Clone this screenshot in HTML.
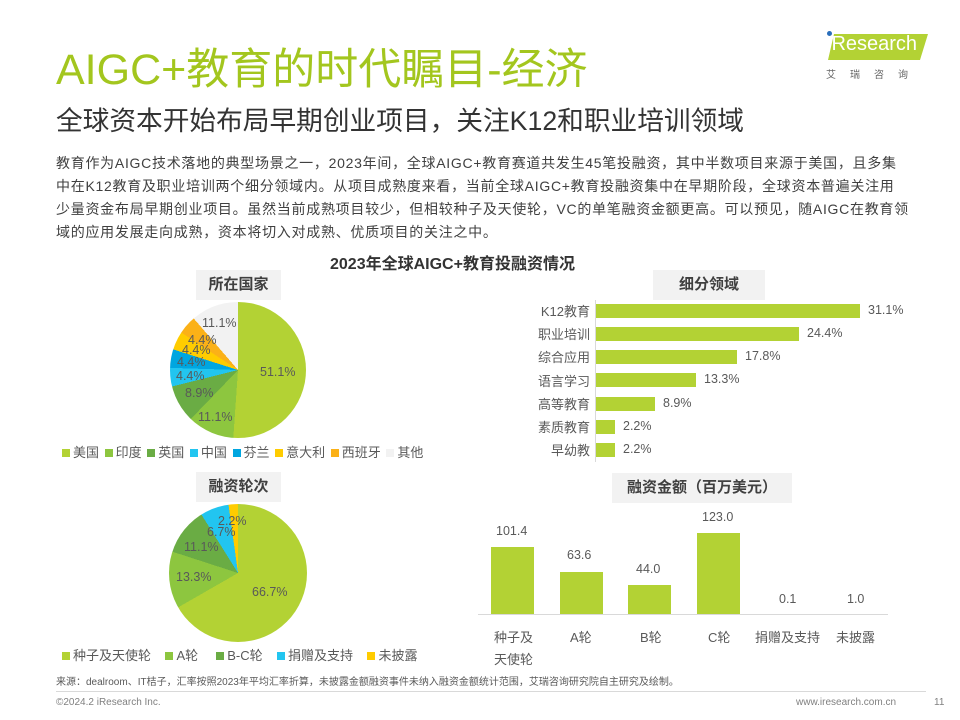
<!DOCTYPE html><html><head><meta charset="utf-8"><style>
body{margin:0;width:960px;height:720px;background:#fff;position:relative;overflow:hidden;font-family:"Liberation Sans","Noto Sans CJK SC",sans-serif;color:#404040}
.a{position:absolute;white-space:nowrap}
.pie{position:absolute;border-radius:50%}
.lb{position:absolute;font-size:12.5px;color:#595959;white-space:nowrap}
.hd{position:absolute;background:#f2f2f2;font-weight:bold;font-size:15px;color:#404040;text-align:center}
.sq{display:inline-block;width:8px;height:8px;margin-right:3px;vertical-align:0}
.lg{font-size:13px;color:#595959}
.hb{position:absolute;left:596px;height:14px;background:#b3d234}
.cb{position:absolute;width:43px;background:#b3d234;bottom:106px}
.p{position:absolute;left:56px;font-size:14px;color:#404040;white-space:nowrap;letter-spacing:0.72px}
</style></head><body>
<div class="a" style="left:56px;top:35px;font-size:43px;color:#a3c61e">AIGC+教育的时代瞩目-经济</div>
<div class="a" style="left:56px;top:99px;font-size:26.7px;color:#333">全球资本开始布局早期创业项目，关注K12和职业培训领域</div>
<div class="a" style="left:828px;top:34px;width:100px;height:26px;background:#b3d234;clip-path:polygon(6% 0,100% 0,92% 100%,0 100%)"></div>
<div class="a" style="left:827px;top:33px;font-size:20px;color:#fff">iResearch</div>
<div class="a" style="left:827px;top:31px;width:5px;height:5px;border-radius:50%;background:#2a6ebb"></div>
<div class="a" style="left:826px;top:66px;font-size:10px;color:#666;letter-spacing:14px">艾瑞咨询</div>
<div class="p" style="top:153px">教育作为AIGC技术落地的典型场景之一，2023年间，全球AIGC+教育赛道共发生45笔投融资，其中半数项目来源于美国，且多集</div>
<div class="p" style="top:176px">中在K12教育及职业培训两个细分领域内。从项目成熟度来看，当前全球AIGC+教育投融资集中在早期阶段，全球资本普遍关注用</div>
<div class="p" style="top:199px">少量资金布局早期创业项目。虽然当前成熟项目较少，但相较种子及天使轮，VC的单笔融资金额更高。可以预见，随AIGC在教育领</div>
<div class="p" style="top:222px">域的应用发展走向成熟，资本将切入对成熟、优质项目的关注之中。</div>
<div class="a" style="left:330px;top:250px;font-size:16px;font-weight:bold;color:#333">2023年全球AIGC+教育投融资情况</div>

<div class="hd" style="left:196px;top:270px;width:85px;height:30px;line-height:30px">所在国家</div>
<div class="pie" style="left:170px;top:302px;width:136px;height:136px;background:conic-gradient(#b3d234 0 51.1%,#8dc63f 0 62.2%,#6aac44 0 71.1%,#22c5f0 0 75.5%,#00a6e0 0 79.9%,#ffcc00 0 84.3%,#fbb117 0 88.7%,#f2f2f2 0 100%)"></div>
<div class="lb" style="left:260px;top:365px">51.1%</div>
<div class="lb" style="left:198px;top:410px">11.1%</div>
<div class="lb" style="left:185px;top:386px">8.9%</div>
<div class="lb" style="left:176px;top:369px">4.4%</div>
<div class="lb" style="left:177px;top:355px">4.4%</div>
<div class="lb" style="left:182px;top:343px">4.4%</div>
<div class="lb" style="left:188px;top:333px">4.4%</div>
<div class="lb" style="left:202px;top:316px">11.1%</div>
<div class="a lg" style="left:62px;top:442px;word-spacing:2px"><span class="sq" style="background:#b3d234"></span>美国 <span class="sq" style="background:#8dc63f"></span>印度 <span class="sq" style="background:#6aac44"></span>英国 <span class="sq" style="background:#22c5f0"></span>中国 <span class="sq" style="background:#00a6e0"></span>芬兰 <span class="sq" style="background:#ffcc00"></span>意大利 <span class="sq" style="background:#fbb117"></span>西班牙 <span class="sq" style="background:#f2f2f2"></span>其他</div>

<div class="hd" style="left:196px;top:472px;width:85px;height:30px;line-height:30px">融资轮次</div>
<div class="pie" style="left:169px;top:504px;width:138px;height:138px;background:conic-gradient(#b3d234 0 66.7%,#8dc63f 0 80%,#6aac44 0 91.1%,#22c5f0 0 97.8%,#ffcc00 0 100%)"></div>
<div class="lb" style="left:252px;top:585px">66.7%</div>
<div class="lb" style="left:176px;top:570px">13.3%</div>
<div class="lb" style="left:184px;top:540px">11.1%</div>
<div class="lb" style="left:207px;top:525px">6.7%</div>
<div class="lb" style="left:218px;top:514px">2.2%</div>
<div class="a lg" style="left:62px;top:645px"><span class="sq" style="background:#b3d234"></span>种子及天使轮 &nbsp;&nbsp;&nbsp;<span class="sq" style="background:#8dc63f"></span>A轮 &nbsp;&nbsp;&nbsp;&nbsp;<span class="sq" style="background:#6aac44"></span>B-C轮 &nbsp;&nbsp;&nbsp;<span class="sq" style="background:#22c5f0"></span>捐赠及支持 &nbsp;&nbsp;&nbsp;<span class="sq" style="background:#ffcc00"></span>未披露</div>

<div class="hd" style="left:653px;top:270px;width:112px;height:30px;line-height:30px">细分领域</div>
<div class="a lg" style="left:480px;top:300px;width:110px;text-align:right;line-height:23.2px">K12教育<br>职业培训<br>综合应用<br>语言学习<br>高等教育<br>素质教育<br>早幼教</div>
<div class="hb" style="top:304px;width:264px"></div><div class="lb" style="left:868px;top:303px">31.1%</div>
<div class="hb" style="top:327px;width:203px"></div><div class="lb" style="left:807px;top:326px">24.4%</div>
<div class="hb" style="top:350px;width:141px"></div><div class="lb" style="left:745px;top:349px">17.8%</div>
<div class="hb" style="top:373px;width:100px"></div><div class="lb" style="left:704px;top:372px">13.3%</div>
<div class="hb" style="top:397px;width:59px"></div><div class="lb" style="left:663px;top:396px">8.9%</div>
<div class="hb" style="top:420px;width:19px"></div><div class="lb" style="left:623px;top:419px">2.2%</div>
<div class="hb" style="top:443px;width:19px"></div><div class="lb" style="left:623px;top:442px">2.2%</div>
<div class="a" style="left:595px;top:300px;width:1px;height:162px;background:#d9d9d9"></div>

<div class="hd" style="left:612px;top:473px;width:180px;height:30px;line-height:30px">融资金额（百万美元）</div>
<div class="cb" style="left:491px;height:67px"></div><div class="lb" style="left:496px;top:524px">101.4</div>
<div class="cb" style="left:560px;height:42px"></div><div class="lb" style="left:567px;top:548px">63.6</div>
<div class="cb" style="left:628px;height:29px"></div><div class="lb" style="left:636px;top:562px">44.0</div>
<div class="cb" style="left:697px;height:81px"></div><div class="lb" style="left:702px;top:510px">123.0</div>
<div class="lb" style="left:779px;top:592px">0.1</div>
<div class="lb" style="left:847px;top:592px">1.0</div>
<div class="a" style="left:478px;top:614px;width:410px;height:1px;background:#d9d9d9"></div>
<div class="a lg" style="left:494px;top:627px;line-height:22px;text-align:center">种子及<br>天使轮</div>
<div class="a lg" style="left:570px;top:627px">A轮</div>
<div class="a lg" style="left:640px;top:627px">B轮</div>
<div class="a lg" style="left:708px;top:627px">C轮</div>
<div class="a lg" style="left:755px;top:627px">捐赠及支持</div>
<div class="a lg" style="left:836px;top:627px">未披露</div>

<div class="a" style="left:56px;top:673px;font-size:10px;color:#595959">来源：dealroom、IT桔子，汇率按照2023年平均汇率折算，未披露金额融资事件未纳入融资金额统计范围，艾瑞咨询研究院自主研究及绘制。</div>
<div class="a" style="left:56px;top:691px;width:870px;height:1px;background:#d9d9d9"></div>
<div class="a" style="left:56px;top:697px;font-size:10px;color:#808080">©2024.2 iResearch Inc.</div>
<div class="a" style="left:796px;top:697px;font-size:10px;color:#808080">www.iresearch.com.cn</div>
<div class="a" style="left:934px;top:697px;font-size:10px;color:#808080">11</div>
</body></html>
